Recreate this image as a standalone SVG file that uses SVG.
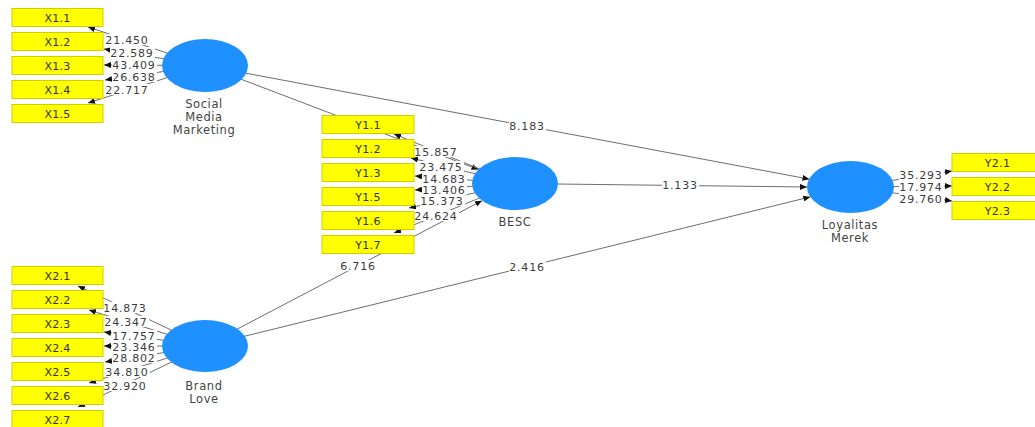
<svg xmlns="http://www.w3.org/2000/svg" width="1035" height="427" viewBox="0 0 1035 427">
<defs>
<marker id="ah" markerWidth="7" markerHeight="6" refX="7" refY="3" orient="auto" markerUnits="userSpaceOnUse"><path d="M0,0 L7,3 L0,6 Z" fill="#111"/></marker>
<style>
.c line{stroke:#6e6e6e;stroke-width:1;fill:none;marker-end:url(#ah)}
.bg{fill:#fff}
.lbl{font-family:"DejaVu Sans",sans-serif;font-size:11px;fill:#3c3c3c;letter-spacing:0.8px;text-anchor:middle}
.box rect{fill:#FFFF00;stroke:#cfcf00;stroke-width:1}
.box text{font-family:"DejaVu Sans",sans-serif;font-size:11px;fill:#333;text-anchor:middle;letter-spacing:0.3px}
.lv ellipse{fill:#1E90FF}
.lv text{font-family:"DejaVu Sans",sans-serif;font-size:11.5px;fill:#444;text-anchor:middle;letter-spacing:0.6px}
</style>
</defs>
<rect width="1035" height="427" fill="#fff"/>
<g id="connectors" class="c">
<line x1="205" y1="65.5" x2="478.5" y2="169.5"/>
<line x1="205" y1="346" x2="482" y2="200.7"/>
<line x1="205" y1="65.5" x2="809.5" y2="179.2"/>
<line x1="515" y1="183.5" x2="807" y2="187"/>
<line x1="205" y1="346" x2="810.3" y2="196.9"/>
<line x1="205" y1="65.5" x2="88" y2="27"/>
<line x1="205" y1="65.5" x2="104" y2="49"/>
<line x1="205" y1="65.5" x2="104" y2="65"/>
<line x1="205" y1="65.5" x2="105" y2="80"/>
<line x1="205" y1="65.5" x2="88" y2="103"/>
<line x1="515" y1="183.5" x2="394" y2="134"/>
<line x1="515" y1="183.5" x2="411" y2="158"/>
<line x1="515" y1="183.5" x2="415" y2="176"/>
<line x1="515" y1="183.5" x2="415" y2="190"/>
<line x1="515" y1="183.5" x2="409" y2="208"/>
<line x1="515" y1="183.5" x2="394" y2="233"/>
<line x1="205" y1="346" x2="78" y2="286"/>
<line x1="205" y1="346" x2="89" y2="310"/>
<line x1="205" y1="346" x2="104" y2="332"/>
<line x1="205" y1="346" x2="104" y2="346"/>
<line x1="205" y1="346" x2="105" y2="362"/>
<line x1="205" y1="346" x2="89" y2="383"/>
<line x1="205" y1="346" x2="78" y2="407"/>
<line x1="850.5" y1="187" x2="952" y2="171"/>
<line x1="850.5" y1="187" x2="952" y2="186"/>
<line x1="850.5" y1="187" x2="952" y2="201"/>
<rect class="bg" x="509" y="120" width="37" height="11"/><text class="lbl" x="527" y="130">8.183</text>
<rect class="bg" x="662" y="179" width="37" height="11"/><text class="lbl" x="680" y="189">1.133</text>
<rect class="bg" x="509" y="261" width="37" height="11"/><text class="lbl" x="527" y="271">2.416</text>
<rect class="bg" x="340" y="260" width="37" height="11"/><text class="lbl" x="358" y="270">6.716</text>
<rect class="bg" x="105" y="34" width="45" height="11"/><text class="lbl" x="127" y="44">21.450</text>
<rect class="bg" x="110" y="47" width="45" height="11"/><text class="lbl" x="132" y="57">22.589</text>
<rect class="bg" x="112" y="59" width="45" height="11"/><text class="lbl" x="134" y="69">43.409</text>
<rect class="bg" x="112" y="71" width="45" height="11"/><text class="lbl" x="134" y="81">26.638</text>
<rect class="bg" x="105" y="84" width="45" height="11"/><text class="lbl" x="127" y="94">22.717</text>
<rect class="bg" x="414" y="146" width="45" height="11"/><text class="lbl" x="436" y="156">15.857</text>
<rect class="bg" x="419" y="161" width="45" height="11"/><text class="lbl" x="441" y="171">23.475</text>
<rect class="bg" x="422" y="173" width="45" height="11"/><text class="lbl" x="444" y="183">14.683</text>
<rect class="bg" x="422" y="184" width="45" height="11"/><text class="lbl" x="444" y="194">13.406</text>
<rect class="bg" x="420" y="195" width="45" height="11"/><text class="lbl" x="442" y="205">15.373</text>
<rect class="bg" x="414" y="210" width="45" height="11"/><text class="lbl" x="436" y="220">24.624</text>
<rect class="bg" x="103" y="302" width="45" height="11"/><text class="lbl" x="125" y="312">14.873</text>
<rect class="bg" x="104" y="316" width="45" height="11"/><text class="lbl" x="126" y="326">24.347</text>
<rect class="bg" x="112" y="330" width="45" height="11"/><text class="lbl" x="134" y="340">17.757</text>
<rect class="bg" x="112" y="341" width="45" height="11"/><text class="lbl" x="134" y="351">23.346</text>
<rect class="bg" x="112" y="352" width="45" height="11"/><text class="lbl" x="134" y="362">28.802</text>
<rect class="bg" x="105" y="366" width="45" height="11"/><text class="lbl" x="127" y="376">34.810</text>
<rect class="bg" x="103" y="380" width="45" height="11"/><text class="lbl" x="125" y="390">32.920</text>
<rect class="bg" x="899" y="169" width="45" height="11"/><text class="lbl" x="921" y="179">35.293</text>
<rect class="bg" x="899" y="181" width="45" height="11"/><text class="lbl" x="921" y="191">17.974</text>
<rect class="bg" x="899" y="193" width="45" height="11"/><text class="lbl" x="921" y="203">29.760</text>
</g>
<g id="SMM" class="lv"><ellipse cx="205" cy="65.5" rx="43" ry="26.5"/><text x="204" y="108">Social</text><text x="204" y="121">Media</text><text x="204" y="134">Marketing</text></g>
<g id="BESC" class="lv"><ellipse cx="515" cy="183.5" rx="43" ry="26.5"/><text x="515" y="226">BESC</text></g>
<g id="BrandLove" class="lv"><ellipse cx="205" cy="346" rx="43" ry="26"/><text x="204" y="390">Brand</text><text x="204" y="403">Love</text></g>
<g id="Loyalitas" class="lv"><ellipse cx="850.5" cy="187" rx="43.5" ry="26"/><text x="850" y="229">Loyalitas</text><text x="850" y="242">Merek</text></g>
<g id="X1.1" class="box"><rect x="12" y="8.5" width="91" height="18"/><text x="57.5" y="21.5">X1.1</text></g>
<g id="X1.2" class="box"><rect x="12" y="32.5" width="91" height="18"/><text x="57.5" y="45.5">X1.2</text></g>
<g id="X1.3" class="box"><rect x="12" y="56.5" width="91" height="18"/><text x="57.5" y="69.5">X1.3</text></g>
<g id="X1.4" class="box"><rect x="12" y="80.5" width="91" height="18"/><text x="57.5" y="93.5">X1.4</text></g>
<g id="X1.5" class="box"><rect x="12" y="104.5" width="91" height="18"/><text x="57.5" y="117.5">X1.5</text></g>
<g id="Y1.1" class="box"><rect x="322" y="115.5" width="92" height="18"/><text x="368" y="128.5">Y1.1</text></g>
<g id="Y1.2" class="box"><rect x="322" y="139.5" width="92" height="18"/><text x="368" y="152.5">Y1.2</text></g>
<g id="Y1.3" class="box"><rect x="322" y="163.5" width="92" height="18"/><text x="368" y="176.5">Y1.3</text></g>
<g id="Y1.5" class="box"><rect x="322" y="187.5" width="92" height="18"/><text x="368" y="200.5">Y1.5</text></g>
<g id="Y1.6" class="box"><rect x="322" y="211.5" width="92" height="18"/><text x="368" y="224.5">Y1.6</text></g>
<g id="Y1.7" class="box"><rect x="322" y="235.5" width="92" height="18"/><text x="368" y="248.5">Y1.7</text></g>
<g id="X2.1" class="box"><rect x="12" y="266.5" width="91" height="18"/><text x="57.5" y="279.5">X2.1</text></g>
<g id="X2.2" class="box"><rect x="12" y="290.5" width="91" height="18"/><text x="57.5" y="303.5">X2.2</text></g>
<g id="X2.3" class="box"><rect x="12" y="314.5" width="91" height="18"/><text x="57.5" y="327.5">X2.3</text></g>
<g id="X2.4" class="box"><rect x="12" y="338.5" width="91" height="18"/><text x="57.5" y="351.5">X2.4</text></g>
<g id="X2.5" class="box"><rect x="12" y="362.5" width="91" height="18"/><text x="57.5" y="375.5">X2.5</text></g>
<g id="X2.6" class="box"><rect x="12" y="386.5" width="91" height="18"/><text x="57.5" y="399.5">X2.6</text></g>
<g id="X2.7" class="box"><rect x="12" y="410.5" width="91" height="18"/><text x="57.5" y="423.5">X2.7</text></g>
<g id="Y2.1" class="box"><rect x="952" y="153.5" width="91" height="18"/><text x="997.5" y="166.5">Y2.1</text></g>
<g id="Y2.2" class="box"><rect x="952" y="177.5" width="91" height="18"/><text x="997.5" y="190.5">Y2.2</text></g>
<g id="Y2.3" class="box"><rect x="952" y="201.5" width="91" height="18"/><text x="997.5" y="214.5">Y2.3</text></g>
</svg>
